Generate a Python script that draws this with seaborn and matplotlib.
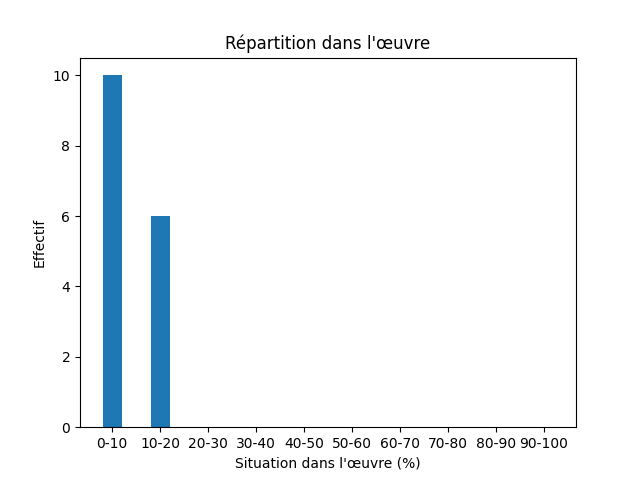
import matplotlib
matplotlib.use('Agg')
import matplotlib.pyplot as plt
import seaborn as sns

# Données
tranches = ['0-10', '10-20', '20-30', '30-40', '40-50',
            '50-60', '60-70', '70-80', '80-90', '90-100']
effectifs = [10, 6, 0, 0, 0, 0, 0, 0, 0, 0]

fig, ax = plt.subplots(figsize=(6.4, 4.8), dpi=100)
sns.barplot(x=tranches, y=effectifs, color='#1f77b4', saturation=1,
            width=0.4, ax=ax)
ax.set_xlim(-0.67, len(tranches) - 1 + 0.67)
ax.set_ylim(0, 10.5)
ax.set_title("Répartition dans l'œuvre")
ax.set_xlabel("Situation dans l'œuvre (%)")
ax.set_ylabel('Effectif')
plt.savefig('out.png')
